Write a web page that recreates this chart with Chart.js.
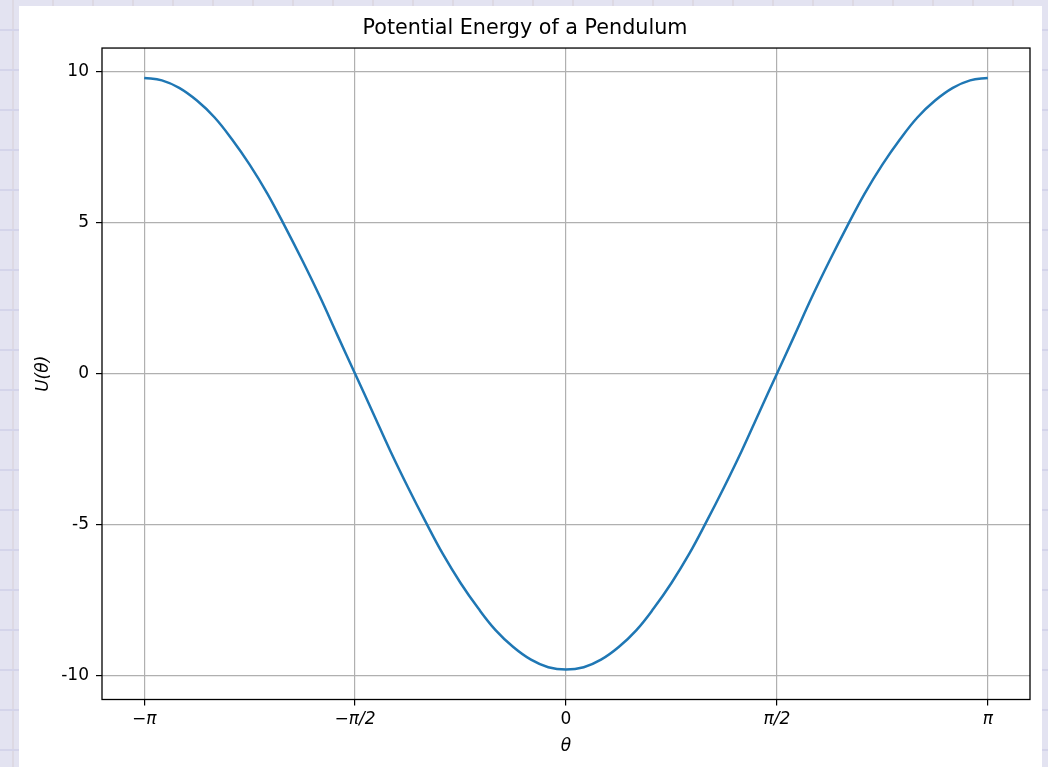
<!DOCTYPE html>
<html>
<head>
<meta charset="utf-8">
<script src="https://cdn.jsdelivr.net/npm/chart.js@4.4.1/dist/chart.umd.min.js"></script>
<style>
  html, body { margin: 0; padding: 0; }
  body {
    width: 1048px; height: 767px; overflow: hidden; position: relative;
    background-color: #e3e3f1;
    background-image:
      linear-gradient(to bottom, transparent 29px, #d4d4ea 29px, #d4d4ea 31px, transparent 31px),
      linear-gradient(to right, transparent 12px, #ddd9e3 12px, #ddd9e3 14px, transparent 14px);
    background-size: 100% 40px, 40px 100%;
  }
  #panel { position: absolute; left: 19px; top: 6px; width: 1023px; height: 770px; background: #fff; }
  #wrap { position: absolute; left: 0; top: 0; width: 1048px; height: 767px; }
</style>
</head>
<body>
<div id="panel"></div>
<div id="wrap"><canvas id="pendulum-chart"></canvas></div>
<script>
/* pendulum potential */
// theta in units of pi
const thetaPi = [-1.0, -0.958, -0.917, -0.875, -0.833, -0.792, -0.75, -0.708, -0.667, -0.625, -0.583, -0.542,
  -0.5, -0.458, -0.417, -0.375, -0.333, -0.292, -0.25, -0.208, -0.167, -0.125, -0.083, -0.042,
  0, 0.042, 0.083, 0.125, 0.167, 0.208, 0.25, 0.292, 0.333, 0.375, 0.417, 0.458,
  0.5, 0.542, 0.583, 0.625, 0.667, 0.708, 0.75, 0.792, 0.833, 0.875, 0.917, 0.958, 1.0];
const energy = [9.8, 9.72, 9.47, 9.05, 8.49, 7.77, 6.93, 5.97, 4.9, 3.75, 2.54, 1.28,
  0, -1.28, -2.54, -3.75, -4.9, -5.97, -6.93, -7.77, -8.49, -9.05, -9.47, -9.72,
  -9.8, -9.72, -9.47, -9.05, -8.49, -7.77, -6.93, -5.97, -4.9, -3.75, -2.54, -1.28,
  0, 1.28, 2.54, 3.75, 4.9, 5.97, 6.93, 7.77, 8.49, 9.05, 9.47, 9.72, 9.8];
const xTickValues = [-1, -0.5, 0, 0.5, 1];
const xTickLabels = ['\u2212\u03c0', '\u2212\u03c0/2', '0', '\u03c0/2', '\u03c0'];
const yTickValues = [-10, -5, 0, 5, 10];
const yTickLabels = ['-10', '-5', '0', '5', '10'];

const FONT = 'DejaVu Sans';

// matplotlib-style closed frame round the plot area
const framePlugin = {
  id: 'frame',
  afterDraw(chart) {
    const { ctx, chartArea: a } = chart;
    ctx.save();
    ctx.strokeStyle = '#000';
    ctx.lineWidth = 1.3;
    ctx.strokeRect(a.left, a.top, a.right - a.left, a.bottom - a.top);
    ctx.restore();
  }
};

const points = thetaPi.map((t, i) => ({ x: t, y: energy[i] }));

new Chart(document.getElementById('pendulum-chart'), {
  type: 'line',
  data: {
    datasets: [{
      data: points,
      borderColor: '#1f77b4',
      borderWidth: 2.5,
      pointRadius: 0,
      tension: 0.4,
      fill: false
    }]
  },
  options: {
    responsive: true,
    maintainAspectRatio: false,
    animation: false,
    layout: { padding: { left: 20, right: 18, top: 6, bottom: 0 } },
    plugins: {
      legend: { display: false },
      tooltip: { enabled: false },
      title: {
        display: true,
        text: 'Potential Energy of a Pendulum',
        color: '#000',
        font: { family: FONT, size: 20.7, weight: 'normal' },
        padding: { top: 10.6, bottom: 6.6 }
      }
    },
    scales: {
      x: {
        type: 'linear',
        min: -1.1, max: 1.1,
        afterBuildTicks: s => { s.ticks = xTickValues.map(v => ({ value: v })); },
        afterFit: s => { s.height = 67.5; },
        ticks: {
          color: '#000',
          font: ctx => ({ family: FONT, size: 17, style: ctx.tick && ctx.tick.value !== 0 ? 'italic' : 'normal' }),
          padding: 4,
          maxRotation: 0,
          callback: v => xTickLabels[xTickValues.indexOf(v)]
        },
        grid: { color: '#b0b0b0', lineWidth: 1.2, tickLength: 6, tickColor: '#000', tickWidth: 1.2 },
        border: { display: false },
        title: {
          display: true, text: '\u03b8', color: '#000',
          font: { family: FONT, size: 17, style: 'italic' },
          padding: { top: 0, bottom: 9.8 }
        }
      },
      y: {
        type: 'linear',
        min: -10.79, max: 10.79,
        afterBuildTicks: s => { s.ticks = yTickValues.map(v => ({ value: v })); },
        afterFit: s => { s.width = 82; },
        ticks: {
          color: '#000',
          font: { family: FONT, size: 17 },
          padding: 7,
          callback: v => yTickLabels[yTickValues.indexOf(v)]
        },
        grid: { color: '#b0b0b0', lineWidth: 1.2, tickLength: 6, tickColor: '#000', tickWidth: 1.2 },
        border: { display: false },
        title: {
          display: true, text: 'U(\u03b8)', color: '#000',
          font: { family: FONT, size: 17, style: 'italic' },
          padding: { top: 13.8, bottom: 0 }
        }
      }
    }
  },
  plugins: [framePlugin]
});
</script>
</body>
</html>
